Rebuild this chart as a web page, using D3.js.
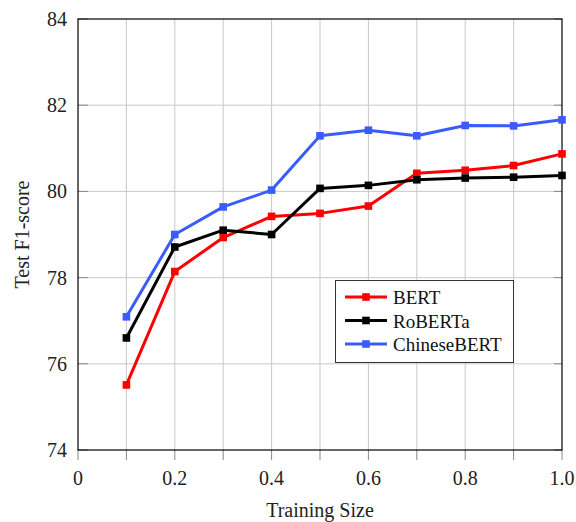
<!DOCTYPE html>
<html><head><meta charset="utf-8">
<script src="https://cdn.jsdelivr.net/npm/d3@7"></script>
<style>body{margin:0;background:#fff}svg{display:block}text{font-family:"Liberation Serif","Times New Roman",serif;}</style>
</head><body><svg id="c" width="576" height="522" font-family="Liberation Serif, serif"></svg>
<script>
const sizes = [0.1,0.2,0.3,0.4,0.5,0.6,0.7,0.8,0.9,1.0];
const bert = [75.51,78.14,78.93,79.42,79.49,79.66,80.42,80.49,80.60,80.87];
const roberta = [76.60,78.71,79.10,79.00,80.07,80.14,80.27,80.31,80.33,80.37];
const chinesebert = [77.09,79.00,79.64,80.03,81.29,81.42,81.29,81.53,81.52,81.66];
const seriesNames = ["BERT","RoBERTa","ChineseBERT"];
const seriesColors = ["#ff0000","#000000","#3a5cff"];
const xTicks = [0,0.2,0.4,0.6,0.8,1.0];
const xTickLabels = ["0","0.2","0.4","0.6","0.8","1.0"];
const yTicks = [74,76,78,80,82,84];

const svg = d3.select("#c");
const L=78,R=562,T=19,B=450;
const x = d3.scaleLinear().domain([0,1]).range([L,R]);
const y = d3.scaleLinear().domain([74,84]).range([B,T]);
const minorX = d3.range(0,11).map(i=>i/10);

// grid
svg.append("g").selectAll("line").data(minorX.slice(1,-1)).join("line")
  .attr("x1",d=>x(d)).attr("x2",d=>x(d)).attr("y1",T).attr("y2",B)
  .attr("stroke","#c8c8c8").attr("stroke-width",1);
svg.append("g").selectAll("line").data(yTicks.slice(1,-1)).join("line")
  .attr("x1",L).attr("x2",R).attr("y1",d=>y(d)).attr("y2",d=>y(d))
  .attr("stroke","#c8c8c8").attr("stroke-width",1);

// ticks
svg.append("g").selectAll("line").data(minorX).join("line")
  .attr("x1",d=>x(d)).attr("x2",d=>x(d)).attr("y1",B).attr("y2",B+10)
  .attr("stroke","#888").attr("stroke-width",1);
svg.append("g").selectAll("line").data(yTicks).join("line")
  .attr("x1",L).attr("x2",L+10).attr("y1",d=>y(d)).attr("y2",d=>y(d))
  .attr("stroke","#888").attr("stroke-width",1);
svg.append("g").selectAll("line").data(yTicks).join("line")
  .attr("x1",R-8).attr("x2",R).attr("y1",d=>y(d)).attr("y2",d=>y(d))
  .attr("stroke","#888").attr("stroke-width",1);

// frame
svg.append("rect").attr("x",L).attr("y",T).attr("width",R-L).attr("height",B-T)
  .attr("fill","none").attr("stroke","#000").attr("stroke-width",1.2);

// tick labels
svg.append("g").selectAll("text").data(xTicks).join("text")
  .attr("x",d=>x(d)).attr("y",B+35).attr("text-anchor","middle")
  .attr("font-size",20).attr("fill","#222").text((d,i)=>xTickLabels[i]);
svg.append("g").selectAll("text").data(yTicks).join("text")
  .attr("x",L-11).attr("y",d=>y(d)+7).attr("text-anchor","end")
  .attr("font-size",20).attr("fill","#222").text(d=>d);

// axis titles
svg.append("text").attr("x",(L+R)/2).attr("y",517).attr("text-anchor","middle")
  .attr("font-size",20).attr("fill","#222").text("Training Size");
svg.append("text").attr("transform",`translate(29,${(T+B)/2}) rotate(-90)`)
  .attr("text-anchor","middle").attr("font-size",20).attr("fill","#222").text("Test F1-score");

// series
const data = [bert, roberta, chinesebert];
const line = d3.line().x((d,i)=>x(sizes[i])).y(d=>y(d));
data.forEach((vals,k)=>{
  const g = svg.append("g");
  g.append("path").datum(vals).attr("d",line).attr("fill","none")
   .attr("stroke",seriesColors[k]).attr("stroke-width",3).attr("stroke-linejoin","round");
  g.selectAll("rect").data(vals).join("rect")
   .attr("x",(d,i)=>x(sizes[i])-3.8).attr("y",d=>y(d)-3.8).attr("width",7.6).attr("height",7.6)
   .attr("fill",seriesColors[k]);
});

// legend
const lg = svg.append("g");
lg.append("rect").attr("x",335.5).attr("y",280.5).attr("width",178).attr("height",82)
  .attr("fill","#fff").attr("stroke","#333").attr("stroke-width",1);
seriesNames.forEach((n,k)=>{
  const yy = 297 + k*23.5;
  lg.append("line").attr("x1",345).attr("x2",387).attr("y1",yy).attr("y2",yy)
    .attr("stroke",seriesColors[k]).attr("stroke-width",3);
  lg.append("rect").attr("x",366-3.8).attr("y",yy-3.8).attr("width",7.6).attr("height",7.6)
    .attr("fill",seriesColors[k]);
  lg.append("text").attr("x",393).attr("y",yy+7).attr("font-size",19).attr("fill","#111").text(n);
});
</script></body></html>
